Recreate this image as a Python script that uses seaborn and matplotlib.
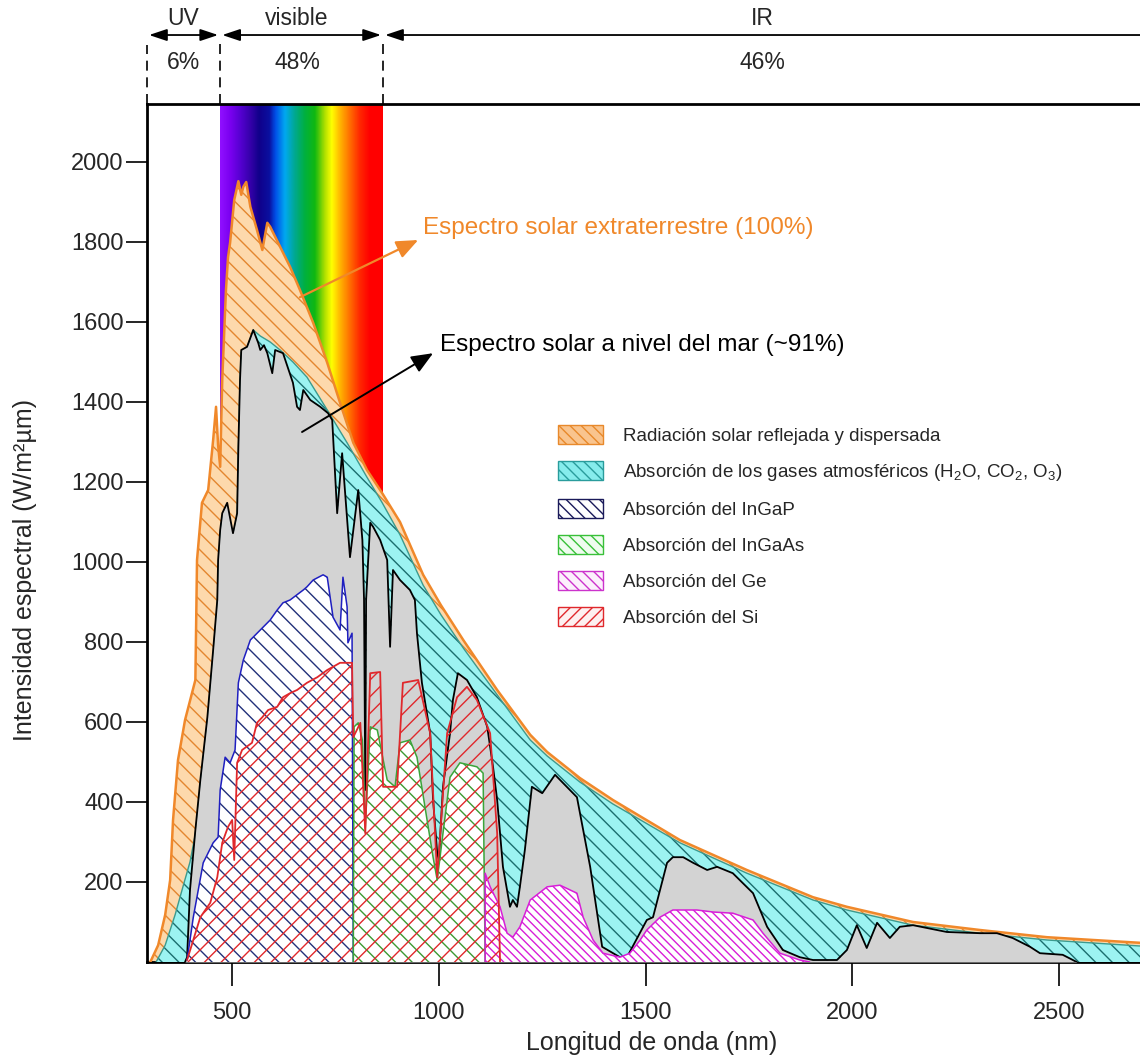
import numpy as np
import seaborn as sns
import matplotlib.pyplot as plt
import matplotlib.transforms as mtransforms
from matplotlib.colors import LinearSegmentedColormap
from matplotlib.patches import Patch

# ---- spectra (wavelength in nm, W/m2um) ----
# extraterrestrial spectrum (top orange curve)
etr_nm = [302, 321, 338, 350, 357, 369, 386, 411, 415, 427,
          442, 454, 461, 466, 471, 476, 485, 490, 495, 505,
          515, 522, 527, 534, 544, 560, 573, 585, 592, 616,
          640, 664, 696, 730, 761, 793, 826, 863, 906, 962,
          1005, 1059, 1141, 1221, 1262, 1341, 1421, 1583, 1745, 1905,
          1987, 2147, 2309, 2471, 2696]
etr_val = [0, 42, 118, 205, 355, 505, 605, 705, 1005, 1148,
           1180, 1305, 1388, 1292, 1238, 1455, 1680, 1762, 1798, 1905,
           1952, 1918, 1938, 1950, 1888, 1830, 1780, 1848, 1838, 1788,
           1738, 1680, 1598, 1498, 1398, 1298, 1230, 1172, 1100, 968,
           892, 805, 680, 568, 525, 460, 405, 305, 230, 162,
           138, 100, 80, 62, 48]

# spectrum after reflection / scattering (top of the cyan band)
refl_nm = [316, 338, 362, 382, 398, 411, 423, 440, 454, 464,
           471, 476, 488, 502, 512, 515, 519, 522, 536, 551,
           568, 592, 616, 647, 681, 730, 778, 826, 863, 906,
           962, 1005, 1059, 1141, 1221, 1262, 1341, 1421, 1583, 1745,
           1905, 1987, 2147, 2309, 2471, 2696]
refl_val = [0, 42, 118, 192, 250, 320, 440, 600, 770, 895,
            1070, 1110, 1140, 1060, 1110, 1280, 1450, 1525, 1535, 1580,
            1565, 1550, 1530, 1500, 1462, 1380, 1298, 1212, 1148, 1068,
            942, 868, 785, 668, 555, 515, 450, 395, 298, 222,
            155, 130, 92, 72, 55, 40]

# sea level spectrum (grey)
sea_nm = [386, 391, 398, 411, 423, 440, 454, 464, 466, 471,
          476, 488, 502, 512, 515, 519, 522, 536, 551, 563,
          568, 577, 585, 597, 604, 623, 647, 657, 664, 672,
          689, 713, 732, 742, 754, 766, 785, 805, 815, 819,
          822, 824, 829, 834, 841, 858, 875, 882, 889, 906,
          930, 942, 947, 959, 979, 986, 996, 1000, 1010, 1027,
          1034, 1046, 1068, 1092, 1117, 1131, 1141, 1155, 1172, 1179,
          1189, 1196, 1208, 1225, 1250, 1281, 1334, 1366, 1395, 1438,
          1455, 1503, 1518, 1552, 1566, 1591, 1615, 1649, 1673, 1711,
          1760, 1794, 1832, 1873, 1905, 1963, 1987, 2011, 2035, 2060,
          2091, 2115, 2147, 2229, 2309, 2350, 2388, 2430, 2454, 2509,
          2543]
sea_val = [0, 12, 180, 330, 455, 612, 780, 905, 1005, 1080,
           1122, 1148, 1072, 1122, 1288, 1455, 1530, 1538, 1580, 1548,
           1530, 1542, 1522, 1472, 1530, 1522, 1448, 1388, 1380, 1430,
           1405, 1388, 1372, 1355, 1122, 1272, 1012, 1180, 1055, 905,
           430, 905, 1005, 1098, 1088, 1055, 1005, 788, 980, 955,
           930, 905, 822, 698, 572, 405, 272, 255, 438, 572,
           655, 722, 705, 662, 588, 488, 405, 238, 138, 155,
           138, 188, 280, 438, 422, 468, 412, 238, 38, 12,
           12, 105, 112, 248, 262, 262, 248, 230, 238, 222,
           172, 88, 30, 12, 5, 5, 30, 92, 35, 98,
           60, 88, 92, 75, 72, 72, 60, 38, 22, 18,
           0]

# cell absorption curves
ingap_nm = [391, 406, 430, 454, 466, 471, 483, 495, 507, 515,
            527, 544, 568, 592, 609, 623, 640, 672, 681, 696,
            720, 730, 744, 761, 768, 778, 780, 790, 793]
ingap_val = [5, 112, 248, 298, 312, 430, 512, 498, 530, 698,
             755, 805, 830, 855, 880, 898, 905, 930, 938, 955,
             968, 962, 862, 830, 962, 888, 798, 822, 0]

ingaas_nm = [793, 795, 805, 815, 822, 834, 851, 875, 894, 906,
             930, 947, 986, 996, 1010, 1027, 1051, 1092, 1107, 1112]
ingaas_val = [0, 588, 598, 555, 335, 588, 580, 455, 438, 548,
              555, 512, 262, 205, 322, 462, 498, 488, 472, 0]

ge_nm = [1112, 1112, 1124, 1148, 1165, 1179, 1196, 1221, 1262, 1293,
         1334, 1349, 1373, 1397, 1438, 1462, 1487, 1503, 1535, 1566,
         1624, 1663, 1711, 1760, 1784, 1825, 1873, 1897]
ge_val = [0, 222, 188, 138, 72, 62, 88, 155, 188, 192,
          172, 112, 55, 22, 12, 22, 55, 80, 112, 130,
          130, 125, 122, 105, 72, 22, 5, 0]

si_nm = [391, 423, 447, 464, 476, 490, 500, 505, 512, 524,
         548, 560, 573, 587, 609, 623, 640, 657, 681, 706,
         730, 744, 761, 778, 790, 793, 810, 822, 834, 858,
         865, 899, 913, 950, 979, 996, 1020, 1044, 1068, 1092,
         1124, 1141, 1148]
si_val = [5, 112, 148, 212, 298, 338, 355, 255, 498, 530,
          548, 598, 612, 630, 638, 662, 672, 680, 698, 712,
          730, 738, 748, 748, 748, 562, 598, 322, 722, 725,
          438, 438, 698, 705, 572, 212, 572, 662, 688, 655,
          572, 322, 0]

# visible colour band
rainbow_nm = [471, 495, 520, 545, 565, 590, 605, 628, 652, 676,
              701, 725, 742, 761, 785, 810, 834, 865]
rainbow_colors = ['#9010ff', '#7a00f0', '#5500d0', '#3300a8', '#10008a',
                  '#0a10a0', '#0050e8', '#00a8f0', '#00a890', '#00b040',
                  '#10b810', '#b0e000', '#ffff00', '#ffb800', '#ff7000',
                  '#ff2800', '#ff0000', '#ff0000']

# UV / visible / IR header
band_edges = [294, 471, 865]
band_names = ['UV', 'visible', 'IR']
band_pct = ['6%', '48%', '46%']
band_centers = [382, 657, 1782]

x_ticks = [500, 1000, 1500, 2000, 2500]
y_ticks = [200, 400, 600, 800, 1000, 1200, 1400, 1600, 1800, 2000]

legend_labels = [
    'Radiación solar reflejada y dispersada',
    'Absorción de los gases atmosféricos (H$_2$O, CO$_2$, O$_3$)',
    'Absorción del InGaP',
    'Absorción del InGaAs',
    'Absorción del Ge',
    'Absorción del Si',
]

sns.set_theme(style='ticks')
plt.rcParams['font.family'] = ['Liberation Sans', 'DejaVu Sans']
plt.rcParams['mathtext.default'] = 'regular'
plt.rcParams['hatch.linewidth'] = 1.0

ORANGE = '#f0882a'
fig = plt.figure(figsize=(11.4, 10.63), dpi=100)
ax = fig.add_axes([147 / 1140, 101 / 1063, 993 / 1140, 858 / 1063])

# rainbow behind the curves
pos = [(v - rainbow_nm[0]) / (rainbow_nm[-1] - rainbow_nm[0]) for v in rainbow_nm]
cmap = LinearSegmentedColormap.from_list('vis', list(zip(pos, rainbow_colors)))
ax.imshow(np.linspace(0, 1, 400).reshape(1, -1), cmap=cmap, aspect='auto',
          extent=[rainbow_nm[0], rainbow_nm[-1], 0, 2145], zorder=1)


def region(nm, val, face, hcol, hatch, z):
    ax.fill_between(nm, val, 0, facecolor=face, edgecolor=hcol, hatch=hatch,
                    linewidth=0, zorder=z)


def outline(nm, val, col, lw, z):
    sns.lineplot(x=nm, y=val, sort=False, estimator=None, color=col, lw=lw,
                 ax=ax, zorder=z)


region(etr_nm, etr_val, '#fdd9ac', '#e3862f', '\\\\', 2)
region(refl_nm, refl_val, '#9cf3f1', '#1b6e6e', '\\\\', 3)
outline(refl_nm, refl_val, '#3c9a8e', 1.0, 3.5)
outline(etr_nm, etr_val, ORANGE, 1.8, 3.6)
region(sea_nm, sea_val, '#d3d3d3', '#d3d3d3', None, 4)
outline(sea_nm, sea_val, 'black', 1.3, 4.5)

region(ingap_nm, ingap_val, 'white', '#22307a', '\\\\', 5)
region(ingaas_nm, ingaas_val, 'white', '#3c9a32', '\\\\', 5)
region(ge_nm, ge_val, 'white', '#d81ed8', '\\\\\\\\', 5)
region(si_nm, si_val, 'none', '#e0282c', '//', 6)
outline(ingap_nm, ingap_val, '#1f1fc0', 1.1, 6.5)
outline(ingaas_nm, ingaas_val, '#3aa53a', 1.1, 6.5)
outline(ge_nm, ge_val, '#d81ed8', 1.1, 6.5)
outline(si_nm, si_val, '#e0282c', 1.3, 6.6)

ax.set_xlim(294, 2696)
ax.set_ylim(0, 2145)
ax.set_xticks(x_ticks)
ax.set_yticks(y_ticks)
ax.tick_params(axis='x', length=17, width=1.2, color='black', labelsize=17, pad=12)
ax.tick_params(axis='y', length=15, width=1.2, color='black', labelsize=17, pad=2)
for s in ['left', 'bottom', 'top']:
    ax.spines[s].set_color('black')
    ax.spines[s].set_linewidth(2)
ax.spines['right'].set_visible(False)

ax.set_xlabel('Longitud de onda (nm)', fontsize=18)
ax.set_ylabel('Intensidad espectral (W/m²µm)', fontsize=18)
ax.xaxis.set_label_coords(0.5086, -0.080)
ax.yaxis.set_label_coords(-0.111, 0.457)

# annotations
ax.annotate('', xy=(950, 1805), xytext=(664, 1662),
            arrowprops=dict(arrowstyle='-|>,head_length=0.6,head_width=0.25',
                            color=ORANGE, lw=1.6, mutation_scale=22,
                            shrinkA=0, shrinkB=0), zorder=8)
ax.text(962, 1835, 'Espectro solar extraterrestre (100%)', color=ORANGE,
        fontsize=17.5, ha='left', va='center', zorder=8)
ax.annotate('', xy=(986, 1522), xytext=(669, 1325),
            arrowprops=dict(arrowstyle='-|>,head_length=0.6,head_width=0.25',
                            color='black', lw=1.4, mutation_scale=22,
                            shrinkA=0, shrinkB=0), zorder=8)
ax.text(1003, 1542, 'Espectro solar a nivel del mar (~91%)', color='black',
        fontsize=17.5, ha='left', va='center', zorder=8)

# header band above the axes
trans = mtransforms.blended_transform_factory(ax.transData, ax.transAxes)
arrow_y = 1.0804
astyle = dict(color='black', lw=1.3, mutation_scale=18, shrinkA=0, shrinkB=0)
ax.annotate('', xy=(466, arrow_y), xytext=(299, arrow_y), xycoords=trans,
            textcoords=trans, annotation_clip=False,
            arrowprops=dict(arrowstyle='<|-|>,head_length=0.6,head_width=0.2', **astyle))
ax.annotate('', xy=(860, arrow_y), xytext=(476, arrow_y), xycoords=trans,
            textcoords=trans, annotation_clip=False,
            arrowprops=dict(arrowstyle='<|-|>,head_length=0.6,head_width=0.2', **astyle))
ax.annotate('', xy=(2800, arrow_y), xytext=(870, arrow_y), xycoords=trans,
            textcoords=trans, annotation_clip=False,
            arrowprops=dict(arrowstyle='<|-,head_length=0.6,head_width=0.2', **astyle))
for x, top in zip(band_edges, [1.069, 1.0746, 1.0746]):
    ax.plot([x, x], [1.0, top], transform=trans, color='black', lw=1.2,
            ls=(0, (6, 4)), clip_on=False)
for xc, name, pct in zip(band_centers, band_names, band_pct):
    ax.text(xc, 1.1002, name, transform=trans, ha='center', va='center',
            fontsize=16.5, clip_on=False)
    ax.text(xc, 1.048, pct, transform=trans, ha='center', va='center',
            fontsize=16.5, clip_on=False)

# legend
handles = [
    Patch(facecolor='#f9c48e', edgecolor='#e8892b', hatch='\\\\\\', lw=1),
    Patch(facecolor='#86ecec', edgecolor='#2a9c9c', hatch='\\\\\\', lw=1),
    Patch(facecolor='white', edgecolor='#1a1a5a', hatch='\\\\\\', lw=1),
    Patch(facecolor='#effcef', edgecolor='#39c039', hatch='\\\\\\', lw=1),
    Patch(facecolor='#fcf0fc', edgecolor='#cc33cc', hatch='\\\\\\', lw=1),
    Patch(facecolor='#fdf0f0', edgecolor='#e0282c', hatch='///', lw=1),
]
leg = ax.legend(handles, legend_labels, loc='upper left',
                bbox_to_anchor=(558 / 1140, 1 - 425 / 1063),
                bbox_transform=fig.transFigure, frameon=False, fontsize=13.5,
                handlelength=2.4, handleheight=1.17, handletextpad=1.07,
                labelspacing=0.87, borderpad=0, borderaxespad=0)
leg.set_zorder(10)

fig.savefig('out.png', dpi=100)
